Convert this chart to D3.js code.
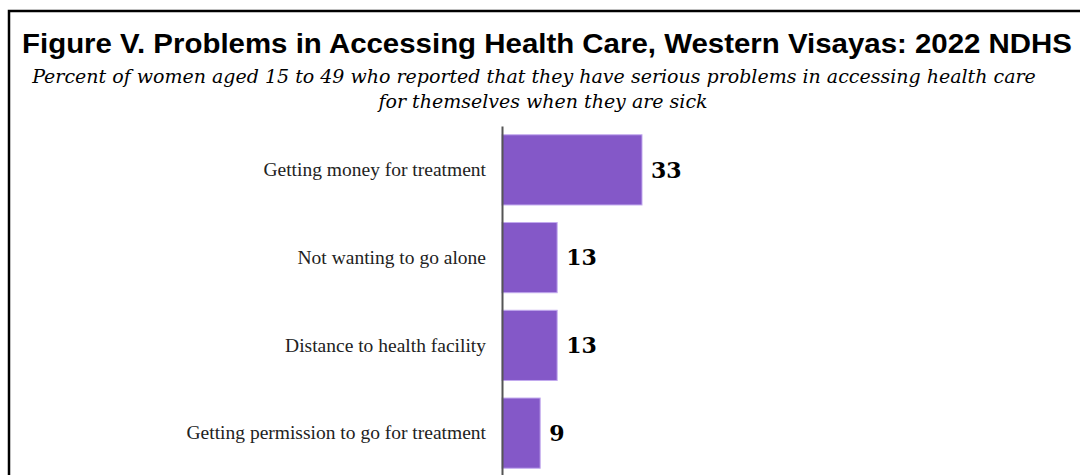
<!DOCTYPE html>
<html lang="en">
  <head>
    <meta charset="utf-8" />
    <title>Problems in Accessing Health Care</title>
    <style>
      body { margin: 0; background: #fff; }
    </style>
  </head>
  <body>
    <svg id="viz"></svg>
    <script src="https://d3js.org/d3.v7.min.js"></script>
    <script>
        var width = 1080;
        var height = 475;

        // data
        var problems = [
            "Getting money for treatment",
            "Not wanting to go alone",
            "Distance to health facility",
            "Getting permission to go for treatment"
        ];
        var percents = [33, 13, 13, 9];

        var title = "Figure V. Problems in Accessing Health Care, Western Visayas: 2022 NDHS";
        var subtitleLines = [
            "Percent of women aged 15 to 49 who reported that they have serious problems in accessing health care",
            "for themselves when they are sick"
        ];

        var svg = d3.select("#viz")
            .attr("width", width)
            .attr("height", height);

        // frame round the figure, runs off the right and bottom edges
        svg.append("rect")
            .attr("x", 9)
            .attr("y", 11)
            .attr("width", width + 20)
            .attr("height", height + 20)
            .attr("fill", "none")
            .attr("stroke", "#000")
            .attr("stroke-width", 2.5);

        svg.append("text")
            .attr("x", 547)
            .attr("y", 53)
            .attr("text-anchor", "middle")
            .attr("textLength", 1050)
            .attr("lengthAdjust", "spacingAndGlyphs")
            .style("font-family", "'Liberation Sans', Arial, sans-serif")
            .style("font-weight", "bold")
            .style("font-size", "28px")
            .text(title);

        svg.selectAll(".sub")
            .data(subtitleLines)
            .enter()
            .append("text")
            .attr("class", "sub")
            .attr("x", function(d, i) { return i == 0 ? 534 : 543; })
            .attr("y", function(d, i) { return 83 + i * 25; })
            .attr("text-anchor", "middle")
            .style("font-family", "'DejaVu Serif', serif")
            .style("font-style", "italic")
            .style("font-size", "19px")
            .text(function(d) { return d; });

        var margin = {left: 502, top: 126};

        var x = d3.scaleLinear()
            .domain([0, 33])
            .range([margin.left, margin.left + 140]);

        var y = d3.scaleBand()
            .domain(problems)
            .range([126, 477])
            .paddingInner(0.2)
            .paddingOuter(0.1);

        var bars = svg.append("g");

        bars.selectAll("rect")
            .data(problems)
            .enter()
            .append("rect")
            .attr("x", x(0))
            .attr("y", function(d) { return y(d); })
            .attr("width", function(d, i) { return x(percents[i]) - x(0); })
            .attr("height", y.bandwidth())
            .attr("fill", "#8458c8")
            .attr("stroke", "#c2a9ee")
            .attr("stroke-width", 1);

        bars.selectAll(".value")
            .data(problems)
            .enter()
            .append("text")
            .attr("class", "value")
            .attr("x", function(d, i) { return x(percents[i]) + 9; })
            .attr("y", function(d) { return y(d) + y.bandwidth() / 2; })
            .attr("dy", "0.35em")
            .style("font-family", "'DejaVu Serif', serif")
            .style("font-weight", "bold")
            .style("font-size", "22px")
            .text(function(d, i) { return percents[i]; });

        // category axis: labels only, the line stays
        var yAxis = d3.axisLeft(y).tickSize(0).tickPadding(16);
        var ag = svg.append("g")
            .attr("transform", "translate(" + margin.left + ",0)")
            .call(yAxis);
        ag.select(".domain").attr("stroke", "#555").attr("stroke-width", 2);
        ag.selectAll("text")
            .style("font-family", "'Liberation Serif', serif")
            .style("font-size", "19.5px")
            .attr("fill", "#222");
    </script>
  </body>
</html>
